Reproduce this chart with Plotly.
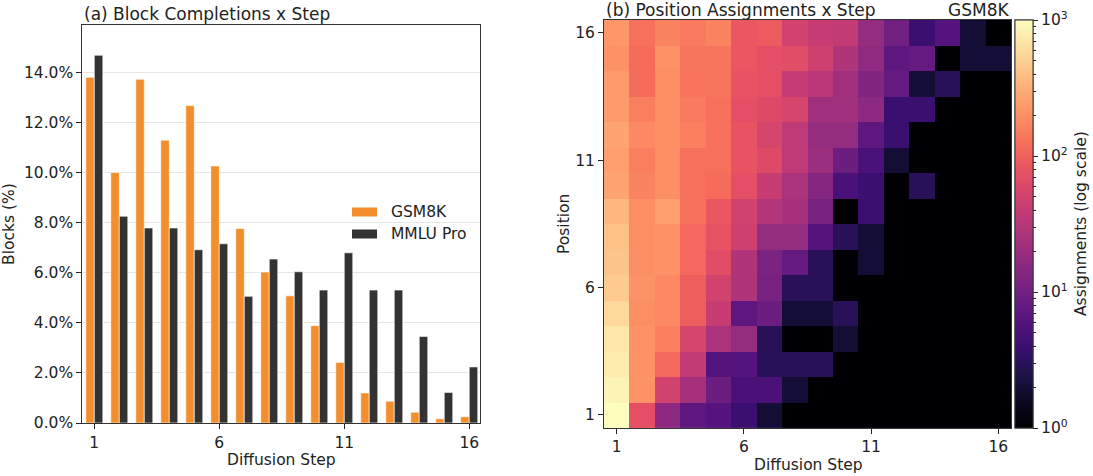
import numpy as np
import plotly.graph_objects as go

# ---- data ----
steps = list(range(1, 17))
positions = list(range(1, 17))

gsm8k_pct = [13.81, 10.01, 13.73, 11.30, 12.68, 10.27, 7.77, 6.03,
             5.08, 3.89, 2.42, 1.20, 0.87, 0.43, 0.17, 0.25]
mmlu_pro_pct = [14.69, 8.26, 7.79, 7.79, 6.92, 7.16, 5.06, 6.55,
                6.04, 5.31, 6.80, 5.31, 5.31, 3.46, 1.22, 2.24]

# assignments per (position, step) for GSM8K, rows = position 1..16, cols = step 1..16
assign_counts = [
    [1000, 72, 16, 7, 6, 4, 2, 0, 0, 0, 0, 0, 0, 0, 0, 0],
    [870, 204, 51, 24, 9, 5, 5, 2, 0, 0, 0, 0, 0, 0, 0, 0],
    [760, 204, 110, 39, 6, 6, 3, 3, 3, 0, 0, 0, 0, 0, 0, 0],
    [710, 204, 155, 55, 26, 18, 3, 0, 0, 2, 0, 0, 0, 0, 0, 0],
    [575, 191, 178, 95, 42, 7, 9, 2, 2, 3, 0, 0, 0, 0, 0, 0],
    [468, 204, 178, 95, 51, 28, 11, 3, 3, 0, 0, 0, 0, 0, 0, 0],
    [437, 191, 204, 110, 68, 28, 12, 8, 3, 0, 2, 0, 0, 0, 0, 0],
    [407, 191, 204, 110, 78, 48, 18, 18, 6, 3, 2, 0, 0, 0, 0, 0],
    [355, 191, 251, 126, 83, 51, 30, 24, 11, 0, 4, 0, 0, 0, 0, 0],
    [269, 166, 191, 126, 118, 72, 42, 26, 14, 5, 4, 0, 3, 0, 0, 0],
    [251, 155, 191, 126, 126, 78, 63, 36, 20, 9, 5, 2, 0, 0, 0, 0],
    [269, 178, 191, 155, 126, 78, 55, 36, 18, 18, 7, 4, 0, 0, 0, 0],
    [235, 155, 191, 145, 126, 72, 63, 55, 22, 22, 16, 4, 4, 0, 0, 0],
    [235, 118, 191, 135, 135, 78, 72, 42, 34, 22, 13, 8, 2, 3, 0, 0],
    [204, 118, 204, 135, 135, 83, 72, 68, 48, 28, 17, 7, 8, 0, 2, 2],
    [219, 126, 166, 145, 166, 83, 89, 51, 42, 39, 18, 10, 4, 6, 2, 0],
]

tick_steps = [1, 6, 11, 16]

# ---- styling ----
W, H = 1093, 476
FONT = 'DejaVu Sans'
FS = 15.5      # ticks, labels
FS_T = 17      # panel titles
ink = '#222222'
spine = '#333333'
c_gsm = '#f28e2b'
c_mmlu = '#333333'

magma = ['#000004', '#07061c', '#140e36', '#251255', '#3b0f70', '#51127c',
         '#641a80', '#782281', '#8c2981', '#a1307e', '#b73779', '#ca3e72',
         '#de4968', '#ed5a5f', '#f7705c', '#fc8961', '#fe9f6d', '#feb77e',
         '#fecf92', '#fde7a9', '#fcfdbf']
magma_scale = [[i / (len(magma) - 1), c] for i, c in enumerate(magma)]

z_log = np.log10(np.maximum(np.array(assign_counts, dtype=float), 1))

# helpers: pixel -> paper fraction
def px_x(p):
    return p / W

def px_y(p):
    return 1 - p / H

fig = go.Figure()

fig.add_trace(go.Bar(
    x=steps, y=gsm8k_pct, name='GSM8K',
    marker=dict(color=c_gsm, line=dict(color='white', width=0.6)),
    xaxis='x', yaxis='y'
))
fig.add_trace(go.Bar(
    x=steps, y=mmlu_pro_pct, name='MMLU Pro',
    marker=dict(color=c_mmlu, line=dict(color='white', width=0.6)),
    xaxis='x', yaxis='y'
))

cb_common = dict(
    x=px_x(1015), xanchor='left', xpad=0,
    y=px_y(20), yanchor='top', ypad=0,
    len=(427.7 - 20) / H, lenmode='fraction',
    thickness=18, thicknessmode='pixels',
    outlinewidth=1, outlinecolor=spine,
    ticks='outside', tickcolor=ink,
)

minor_vals = [np.log10(k * 10 ** e) for e in range(3) for k in range(2, 10)]

# minor ticks colorbar (drawn first)
fig.add_trace(go.Heatmap(
    z=z_log, x=steps, y=positions,
    colorscale=magma_scale, zmin=0, zmax=3,
    xaxis='x2', yaxis='y2', hoverinfo='skip',
    colorbar=dict(cb_common, tickvals=minor_vals, showticklabels=False,
                  ticklen=3, tickwidth=1)
))
# major ticks colorbar with labels
fig.add_trace(go.Heatmap(
    z=z_log, x=steps, y=positions,
    colorscale=magma_scale, zmin=0, zmax=3,
    xaxis='x2', yaxis='y2',
    customdata=np.array(assign_counts),
    hovertemplate='Step %{x}<br>Position %{y}<br>Assignments: %{customdata}<extra></extra>',
    colorbar=dict(cb_common, tickvals=[0, 1, 2, 3],
                  ticktext=['10<sup>0</sup>', '10<sup>1</sup>', '10<sup>2</sup>', '10<sup>3</sup>'],
                  ticklen=5, tickwidth=1,
                  tickfont=dict(family=FONT, size=FS, color=ink))
))

axis_common = dict(
    showline=True, mirror=True, linecolor=spine, linewidth=1,
    ticks='outside', ticklen=5, tickcolor=ink, tickwidth=1,
    tickfont=dict(family=FONT, size=FS, color=ink),
    automargin=False, zeroline=False,
)

def label(text, x, y, size=FS, angle=0, xanchor='center'):
    return dict(text=text, x=px_x(x), y=px_y(y), xref='paper', yref='paper',
                xanchor=xanchor, yanchor='middle', textangle=angle,
                showarrow=False, font=dict(family=FONT, size=size, color=ink))

# matplotlib-style legend: wide flat patches + labels
legend_shapes = [
    dict(type='rect', xref='paper', yref='paper', line=dict(width=0),
         fillcolor=c_gsm, x0=px_x(352), x1=px_x(377), y0=px_y(216.5), y1=px_y(207.5)),
    dict(type='rect', xref='paper', yref='paper', line=dict(width=0),
         fillcolor=c_mmlu, x0=px_x(352), x1=px_x(377), y0=px_y(238.5), y1=px_y(229.5)),
]

fig.update_layout(
    width=W, height=H,
    margin=dict(l=0, r=0, t=0, b=0),
    paper_bgcolor='white', plot_bgcolor='white',
    font=dict(family=FONT, size=FS, color=ink),
    barmode='group', bargap=0.32, bargroupgap=0,
    showlegend=False,
    xaxis=dict(axis_common, domain=[px_x(82.3), px_x(480)], range=[0.52, 16.43],
               tickvals=tick_steps, showgrid=False),
    yaxis=dict(axis_common, domain=[px_y(423), px_y(25)], range=[0, 15.9],
               dtick=2, tick0=0, tickformat='.1f', ticksuffix='%',
               showgrid=True, gridcolor='#e6e6e6', gridwidth=1),
    xaxis2=dict(axis_common, domain=[px_x(604), px_x(1011)], range=[0.5, 16.5],
                tickvals=tick_steps, showgrid=False, anchor='y2'),
    yaxis2=dict(axis_common, domain=[px_y(427.7), px_y(20)], range=[0.5, 16.5],
                tickvals=tick_steps, showgrid=False, anchor='x2'),
    shapes=legend_shapes,
    annotations=[
        label('(a) Block Completions x Step', 82, 14, FS_T, xanchor='left'),
        label('(b) Position Assignments x Step', 604, 10, FS_T, xanchor='left'),
        label('GSM8K', 1011, 10, FS_T, xanchor='right'),
        label('Diffusion Step', 281, 460),
        label('Diffusion Step', 808, 465),
        label('Blocks (%)', 9, 224, angle=-90),
        label('Position', 564, 224, angle=-90),
        label('Assignments (log scale)', 1081, 224, angle=-90),
        label('GSM8K', 389, 212, xanchor='left'),
        label('MMLU Pro', 389, 234, xanchor='left'),
    ],
)

# drop the default 8px page margin so the figure sits at the window corner
fig.write_html('out.html', config={'displayModeBar': False},
               post_script="document.body.style.margin='0';")
